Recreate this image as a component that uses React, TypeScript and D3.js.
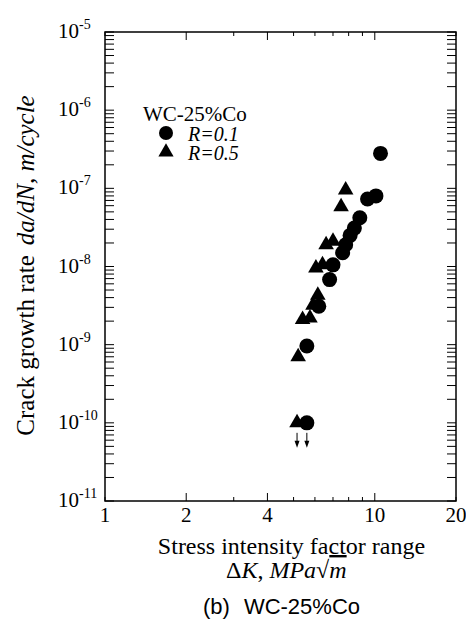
import React from 'react';
import * as d3 from 'd3';

// R = 0.1 (circles)
const r01K = [10.5, 10.1, 9.4, 8.8, 8.4, 8.1, 7.8, 7.6, 7.0, 6.8, 6.2, 5.6, 5.6];
const r01Rate = [2.8e-7, 8.0e-8, 7.3e-8, 4.2e-8, 3.1e-8, 2.5e-8, 1.9e-8, 1.5e-8, 1.05e-8, 6.8e-9, 3.1e-9, 9.6e-10, 1.0e-10];

// R = 0.5 (triangles)
const r05K = [7.8, 7.5, 7.0, 6.6, 6.4, 6.05, 6.15, 5.9, 5.75, 5.4, 5.2, 5.15];
const r05Rate = [9.5e-8, 5.8e-8, 2.1e-8, 1.9e-8, 1.05e-8, 9.6e-9, 4.3e-9, 3.2e-9, 2.2e-9, 2.1e-9, 7.0e-10, 1.0e-10];

// points below detection limit get a down arrow
const runoutK = [5.15, 5.6];
const runoutRate = [1e-10, 1e-10];

const xTickLabels = [1, 2, 4, 10, 20];
const xMinorTicks = [3, 5, 6, 7, 8, 9];
const yDecades = [-11, -10, -9, -8, -7, -6, -5];

const serif = '"Liberation Serif", "Times New Roman", serif';

export default function App() {
  const left = 105, right = 456, top = 32, bottom = 501;
  const x = d3.scaleLog().domain([1, 20]).range([left, right]);
  const y = d3.scaleLog().domain([1e-11, 1e-5]).range([bottom, top]);

  const yMinor: number[] = [];
  yDecades.slice(0, -1).forEach(e => {
    for (let m = 2; m <= 9; m++) yMinor.push(m * Math.pow(10, e));
  });

  const tri = d3.symbol().type(d3.symbolTriangle).size(105)();
  const triLegend = d3.symbol().type(d3.symbolTriangle).size(100)();

  return (
    <svg width={466} height={619} style={{ position: 'absolute', left: 0, top: 0, background: '#fff' }}
      fontFamily={serif}>
      {/* frame */}
      <rect x={left} y={top} width={right - left} height={bottom - top} fill="none" stroke="#000" strokeWidth={1.5} />

      {/* x ticks, bottom and top, pointing in */}
      {xTickLabels.concat(xMinorTicks).map(v => {
        const len = [2, 4, 10].includes(v) ? 8 : 4;
        return (
          <g key={'xt' + v} stroke="#000" strokeWidth={1}>
            <line x1={x(v)} x2={x(v)} y1={bottom} y2={bottom - len} />
            <line x1={x(v)} x2={x(v)} y1={top} y2={top + len} />
          </g>
        );
      })}
      {xTickLabels.map(v => (
        <text key={'xl' + v} x={x(v)} y={bottom + 21} fontSize={21} textAnchor="middle">{v}</text>
      ))}

      {/* y ticks, left and right */}
      {yDecades.map(e => Math.pow(10, e)).concat(yMinor).map((v, i) => (
        <g key={'yt' + i} stroke="#000" strokeWidth={1}>
          <line x1={left} x2={left + 9} y1={y(v)} y2={y(v)} />
          <line x1={right} x2={right - 9} y1={y(v)} y2={y(v)} />
        </g>
      ))}
      {yDecades.map(e => (
        <text key={'yl' + e} x={58} y={y(Math.pow(10, e)) + 6} fontSize={21}>
          10<tspan dy={-9} fontSize={14}>{e}</tspan>
        </text>
      ))}

      {/* axis titles */}
      <text transform={`translate(34,${(top + bottom) / 2 - 1}) rotate(-90)`} fontSize={25} textAnchor="middle">
        Crack growth rate<tspan dx={10} fontStyle="italic">da/dN, m/cycle</tspan>
      </text>
      <text x={(left + right) / 2 + 11} y={554} fontSize={24} textAnchor="middle">Stress intensity factor range</text>
      <text x={226} y={578} fontSize={24}>
        Δ<tspan fontStyle="italic">K</tspan>, <tspan fontStyle="italic">MPa</tspan>√<tspan fontStyle="italic" textDecoration="overline">m</tspan>
      </text>

      {/* caption */}
      <text x={203} y={614} fontSize={22} fontFamily='"Liberation Sans", Arial, sans-serif'>
        (b)<tspan dx={14}>WC-25%Co</tspan>
      </text>

      {/* legend */}
      <text x={143} y={121} fontSize={21}>WC-25%Co</text>
      <circle cx={166} cy={133} r={7} fill="#000" />
      <text x={188} y={141} fontSize={20} fontStyle="italic">R=0.1</text>
      <path d={triLegend} transform="translate(166,152)" fill="#000" />
      <text x={188} y={160} fontSize={20} fontStyle="italic">R=0.5</text>

      {/* data */}
      {r05K.map((k, i) => (
        <path key={'t' + i} d={tri} transform={`translate(${x(k)},${y(r05Rate[i])})`} fill="#000" />
      ))}
      {r01K.map((k, i) => (
        <circle key={'c' + i} cx={x(k)} cy={y(r01Rate[i])} r={7.5} fill="#000" />
      ))}

      {/* run-out arrows */}
      {runoutK.map((k, i) => {
        const ax = x(k), ay = y(runoutRate[i]);
        return (
          <g key={'a' + i}>
            <line x1={ax} x2={ax} y1={ay + 10} y2={ay + 20} stroke="#000" strokeWidth={1} />
            <path d={`M${ax - 2.5},${ay + 18}L${ax + 2.5},${ay + 18}L${ax},${ay + 25}Z`} fill="#000" />
          </g>
        );
      })}
    </svg>
  );
}
